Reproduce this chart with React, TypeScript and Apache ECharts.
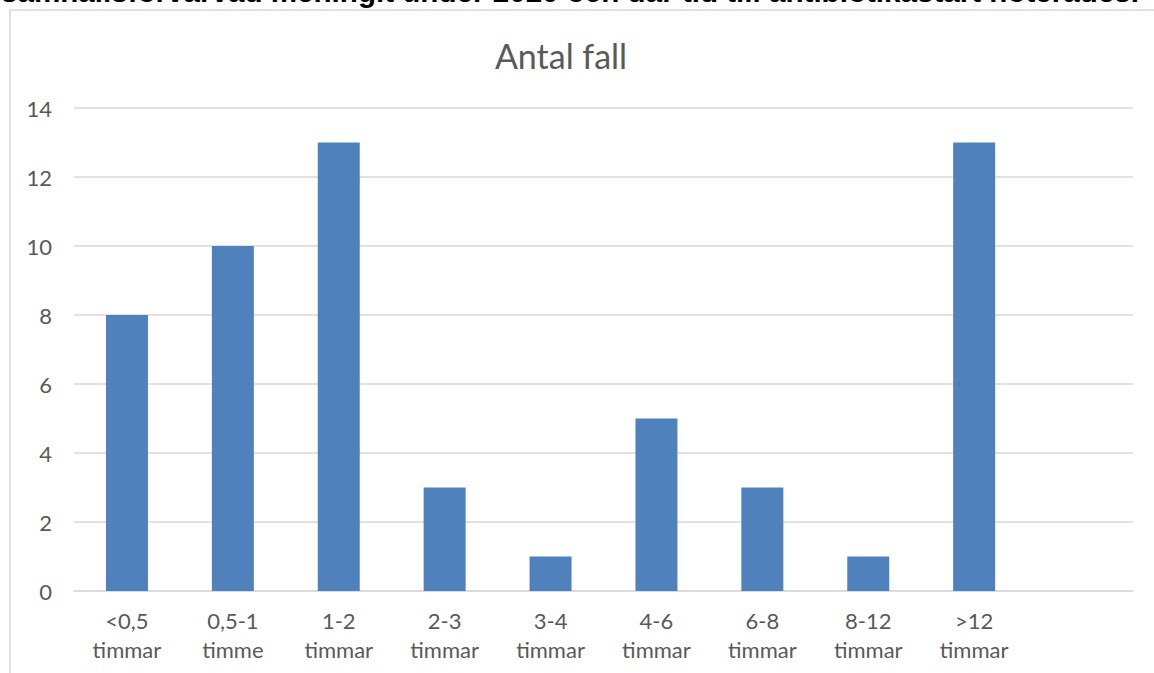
import React, { useEffect, useRef } from "react";
import * as echarts from "echarts";

const categories = [
  "<0,5\ntimmar",
  "0,5-1\ntimme",
  "1-2\ntimmar",
  "2-3\ntimmar",
  "3-4\ntimmar",
  "4-6\ntimmar",
  "6-8\ntimmar",
  "8-12\ntimmar",
  ">12\ntimmar",
  "",
];
const values: (number | null)[] = [8, 10, 13, 3, 1, 5, 3, 1, 13, null];
const yTicks = { min: 0, max: 14, interval: 2 };
const chartTitle = "Antal fall";
const heading = "samhällsförvärvad meningit under 2020 och där tid till antibiotikastart noterades.";

export default function App() {
  const ref = useRef<HTMLDivElement>(null);
  useEffect(() => {
    if (!ref.current) return;
    const chart = echarts.init(ref.current, undefined, { renderer: "svg" });
    chart.setOption({
      animation: false,
      backgroundColor: "#ffffff",
      graphic: [
        {
          type: "rect",
          shape: { x: 10, y: 10, width: 1200, height: 700 },
          style: { fill: "none", stroke: "#d9d9d9", lineWidth: 1.5 },
          silent: true,
        },
        {
          type: "text",
          x: 1,
          y: 6,
          style: {
            text: heading,
            font: "bold 29.6px 'Liberation Sans', Arial, sans-serif",
            fill: "#000000",
            align: "left",
            verticalAlign: "bottom",
          },
        },
      ],
      title: {
        text: chartTitle,
        left: 556,
        textAlign: "center",
        top: 33,
        textStyle: {
          fontFamily: "Lato",
          fontSize: 34,
          fontWeight: "normal",
          color: "#595959",
        },
      },
      grid: { left: 74, right: 21, top: 108, bottom: 82, containLabel: false },
      xAxis: {
        type: "category",
        data: categories,
        axisTick: { show: false },
        axisLine: { show: true, lineStyle: { color: "#d9d9d9", width: 1.5 } },
        axisLabel: {
          color: "#595959",
          fontFamily: "Lato",
          fontSize: 22,
          lineHeight: 29,
          margin: 15,
          interval: 0,
        },
      },
      yAxis: {
        type: "value",
        min: yTicks.min,
        max: yTicks.max,
        interval: yTicks.interval,
        axisLine: { show: false },
        axisTick: { show: false },
        splitLine: { lineStyle: { color: "#d9d9d9", width: 1.5 } },
        axisLabel: {
          color: "#595959",
          fontFamily: "Lato",
          fontSize: 22,
          margin: 22,
        },
      },
      series: [
        {
          type: "bar",
          data: values,
          barWidth: 42,
          itemStyle: { color: "#4f81bd" },
        },
      ],
    });
    return () => chart.dispose();
  }, []);
  return (
    <div
      ref={ref}
      style={{ position: "fixed", left: 0, top: 0, width: 1154, height: 673 }}
    />
  );
}
